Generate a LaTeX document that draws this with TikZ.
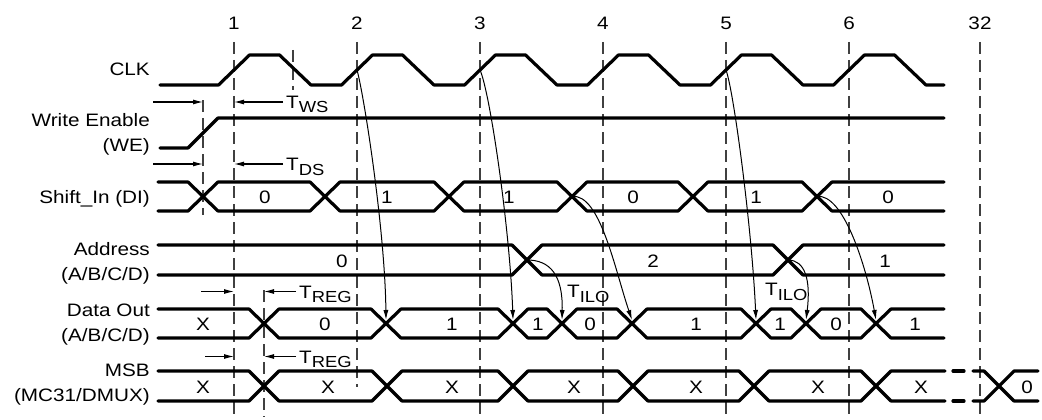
\documentclass[tikz,border=0pt]{standalone}
\usepackage{fontspec}
\setmainfont{Liberation Sans}[FakeStretch=1.15]
\usepackage{tikz}
\usetikzlibrary{arrows.meta}
\newcommand{\tparam}[1]{T\raisebox{-4.5pt}{\fontsize{16}{16}\selectfont #1}}

\begin{document}
\begin{tikzpicture}[
  x=1pt, y=-1pt,
  font=\fontsize{18}{25}\selectfont,
  wave/.style={line width=3.2pt, line join=round, line cap=round},
  guide/.style={line width=1.2pt, dash pattern=on 12pt off 6pt, black!75},
  timing/.style={line width=1.1pt, -{Latex[length=10pt,width=5pt]}},
  causal/.style={line width=1pt, -{Latex[length=10pt,width=5pt]}},
  sig/.style={anchor=east, align=right, inner sep=0pt},
  val/.style={anchor=base, inner sep=0pt},
  num/.style={anchor=base, inner sep=0pt},
  tlab/.style={anchor=west, inner xsep=3pt, inner ysep=0pt,
    text height=13pt, text depth=0pt}
]
  \useasboundingbox (0,0) rectangle (1042,420);

  \foreach \x/\n/\y in {234/1/417,357/2/387,480/3/417,603/4/417,726/5/417,849/6/417,980/32/417} {
    \node[num] (n\n) at (\x,30) {\n};
    \coordinate (e\n) at (\x,42);
    \draw[guide] (e\n) -- (\x,\y);
  }
  \coordinate (fall) at (293,50);
  \coordinate (setup) at (203,100);
  \coordinate (reg) at (264,290);
  \draw[guide] (fall) -- (293,90);
  \draw[guide] (setup) -- (203,215);
  \draw[guide] (reg) -- (264,417);

  \node[sig] (clk) at (150,69.5) {CLK};
  \node[sig] (we) at (150,134) {Write Enable\\(WE)};
  \node[sig] (di) at (150,198.5) {Shift\_In (DI)};
  \node[sig] (addr) at (150,263) {Address\\(A/B/C/D)};
  \node[sig] (dout) at (150,324.5) {Data Out\\(A/B/C/D)};
  \node[sig] (msb) at (150,385) {MSB\\(MC31/DMUX)};

  \draw[wave] (160,85) \foreach \t in {234,357,...,849}
    { -- (\t-15.5,85) -- (\t+15.5,55) -- (\t+45.5,55) -- (\t+77,85) } -- (944,85);

  \draw[wave] (160,148) -- (188,148) -- (218,118) -- (944,118);

  \draw[wave] (158,182) -- (188,182) -- (203,196.5) -- (188,211) -- (158,211);
  \foreach \a/\b in {203/325,325/449,449/572,572/693,693/817}
    \draw[wave] (\a,196.5) -- (\a+15,182) -- (\b-15,182) -- (\b,196.5)
      -- (\b-15,211) -- (\a+15,211) -- cycle;
  \draw[wave] (944,182) -- (832,182) -- (817,196.5) -- (832,211) -- (944,211);
  \foreach \x/\v [count=\i] in {265/0,387/1,509/1,633/0,756/1,888/0}
    \node[val] (di\i) at (\x,203.5) {\v};

  \draw[wave] (158,245) -- (512,245) -- (527,260) -- (512,275) -- (158,275);
  \draw[wave] (527,260) -- (542,245) -- (773,245) -- (788,260) -- (773,275)
    -- (542,275) -- cycle;
  \draw[wave] (944,245) -- (803,245) -- (788,260) -- (803,275) -- (944,275);
  \foreach \x/\v [count=\i] in {342/0,653/2,885/1}
    \node[val] (addr\i) at (\x,267) {\v};

  \draw[wave] (158,309) -- (249,309) -- (264,323.5) -- (249,338) -- (158,338);
  \foreach \a/\b in {264/386,386/513,513/562,562/632,632/756,756/806,806/876}
    \draw[wave] (\a,323.5) -- (\a+15,309) -- (\b-15,309) -- (\b,323.5)
      -- (\b-15,338) -- (\a+15,338) -- cycle;
  \draw[wave] (944,309) -- (891,309) -- (876,323.5) -- (891,338) -- (944,338);
  \foreach \x/\v [count=\i] in {203/X,325/0,452/1,538/1,590/0,696/1,780/1,836/0,915/1}
    \node[val] (do\i) at (\x,330) {\v};

  \draw[wave] (158,371) -- (249,371) -- (264,386) -- (249,401) -- (158,401);
  \foreach \a/\b in {264/387,387/513,513/633,633/754,754/876}
    \draw[wave] (\a,386) -- (\a+15,371) -- (\b-15,371) -- (\b,386)
      -- (\b-15,401) -- (\a+15,401) -- cycle;
  \draw[wave] (945,371) -- (891,371) -- (876,386) -- (891,401) -- (945,401);
  \draw[wave] (953,371) -- (964,371) (953,401) -- (964,401);
  \draw[wave] (973,371) -- (984,371) -- (999,386) -- (984,401) -- (973,401);
  \draw[wave] (1038,371) -- (1014,371) -- (999,386) -- (1014,401) -- (1038,401);
  \foreach \x/\v [count=\i] in {203/X,328/X,452/X,574/X,696/X,818/X,921/X,1027/0}
    \node[val] (msb\i) at (\x,393) {\v};

  \node[tlab] (tws) at (283,102) {\tparam{WS}};
  \node[tlab] (tds) at (283,164) {\tparam{DS}};
  \node[tlab] (treg1) at (296,291.5) {\tparam{REG}};
  \node[tlab] (treg2) at (296,356.5) {\tparam{REG}};
  \node[tlab] (tilo1) at (564,291) {\tparam{ILO}};
  \node[tlab] (tilo2) at (762,289) {\tparam{ILO}};

  \coordinate (wsl) at (153,102);
  \coordinate (dsl) at (153,164);
  \coordinate (regl1) at (201,291.5);
  \coordinate (regl2) at (205,356.5);
  \draw[timing] (wsl) -- (wsl -| setup);
  \draw[timing] (tws.west) -- (tws.west -| e1);
  \draw[timing] (dsl) -- (dsl -| setup);
  \draw[timing] (tds.west) -- (tds.west -| e1);
  \draw[timing] (regl1) -- (regl1 -| e1);
  \draw[timing] (treg1.west) -- (treg1.west -| reg);
  \draw[timing] (regl2) -- (regl2 -| e1);
  \draw[timing] (treg2.west) -- (treg2.west -| reg);

  \coordinate (c2) at (357,70);
  \coordinate (c3) at (480,70);
  \coordinate (c5) at (726,70);
  \coordinate (s4) at (572,196.5);
  \coordinate (s6) at (817,196.5);
  \coordinate (a1) at (527,260);
  \coordinate (a2) at (788,260);
  \coordinate (d1) at (386,320);
  \coordinate (d2) at (513,320);
  \coordinate (d3) at (562,320);
  \coordinate (d4) at (632,320);
  \coordinate (d5) at (756,320);
  \coordinate (d6) at (806,320);
  \coordinate (d7) at (876,320);
  \draw[causal] (c2) .. controls (364,95) and (385,230) .. (d1);
  \draw[causal] (c3) .. controls (490,92) and (510,230) .. (d2);
  \draw[causal] (c5) .. controls (734,92) and (752,230) .. (d5);
  \draw[causal] (a1) .. controls (550,260) and (563,275) .. (d3);
  \draw[causal] (s4) .. controls (600,193) and (615,270) .. (d4);
  \draw[causal] (a2) .. controls (805,260) and (811,280) .. (d6);
  \draw[causal] (s6) .. controls (843,193) and (866,265) .. (d7);
\end{tikzpicture}
\end{document}
